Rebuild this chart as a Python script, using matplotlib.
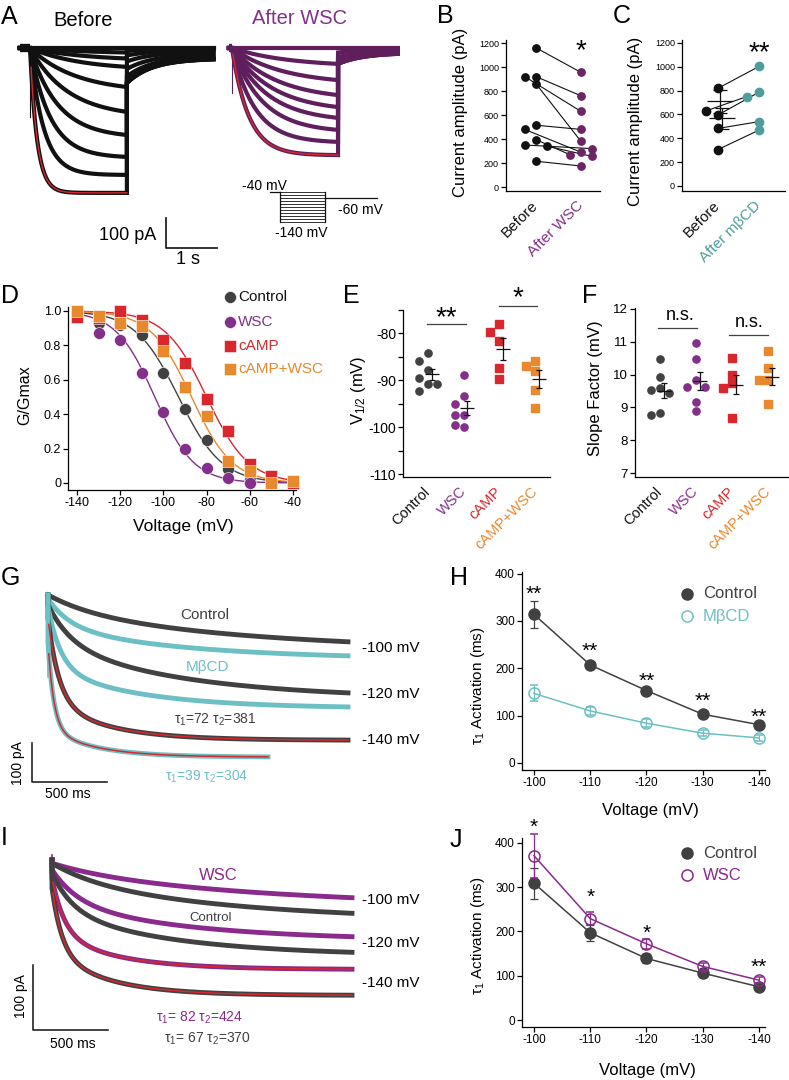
import numpy as np
import matplotlib
matplotlib.use('Agg')
import matplotlib.pyplot as plt
from matplotlib.lines import Line2D

plt.rcParams['font.family'] = ['Liberation Sans', 'DejaVu Sans']
plt.rcParams['mathtext.fontset'] = 'custom'
plt.rcParams['mathtext.rm'] = 'Liberation Sans'
plt.rcParams['mathtext.it'] = 'Liberation Sans:italic'
plt.rcParams['axes.unicode_minus'] = False
plt.rcParams['axes.linewidth'] = 0.9

# ---------------- data ----------------
# A: current families (end of step amplitude pA, activation tau s, tail pA)
a_before_end = [0, -15, -35, -63, -130, -213, -290, -363, -423, -483]
a_before_tau = [1.0, 1.2, 1.1, 1.0, 0.9, 0.75, 0.55, 0.4, 0.27, 0.14]
a_before_tail = [0, 10, 25, 45, 70, 95, 110, 115, 117, 117]
a_after_end = [0, -53, -107, -157, -197, -233, -273, -313, -357]
a_after_tau = [1.2, 1.1, 1.0, 0.9, 0.8, 0.7, 0.6, 0.45, 0.33]
a_after_tail = [0, 15, 30, 40, 47, 50, 52, 53, 53]
proto_levels = [-40, -50, -60, -70, -80, -90, -100, -110, -120, -130, -140]

# B / C: paired current amplitudes (pA)
b_before = [1160, 920, 920, 860, 515, 480, 395, 350, 340, 215]
b_after = [955, 760, 630, 380, 480, 290, 270, 320, 255, 175]
c_before = [820, 596, 629, 483, 306]
c_after = [1003, 787, 750, 540, 469]

# D: G/Gmax
volt_d = [-140, -130, -120, -110, -100, -90, -80, -70, -60, -50, -40]
gg_ctrl = [0.98, 0.93, 0.92, 0.86, 0.64, 0.43, 0.25, 0.08, 0.02, 0.0, 0.0]
gg_wsc = [0.97, 0.87, 0.83, 0.64, 0.41, 0.20, 0.09, 0.03, 0.0, 0.0, 0.0]
gg_camp = [0.965, 0.96, 1.0, 0.95, 0.83, 0.70, 0.49, 0.30, 0.11, 0.04, 0.0]
gg_campw = [1.0, 0.97, 0.93, 0.91, 0.77, 0.56, 0.39, 0.13, 0.07, 0.0, 0.01]
fit_vhalf = [-93, -104, -80, -87]
fit_slope = [10, 9, 9.7, 9.5]

# E: V1/2 (mV), F: slope factor (mV)
groups = ['Control', 'WSC', 'cAMP', 'cAMP+WSC']
e_vals = [[-84.2, -85.8, -87.9, -89.6, -90.8, -90.8, -92.2],
          [-88.8, -93.4, -95.0, -97.5, -97.5, -100.0, -99.6],
          [-77.9, -79.6, -81.7, -87.4, -89.8],
          [-85.8, -87.0, -88.1, -92.0, -95.9]]
f_vals = [[10.47, 9.94, 9.60, 9.53, 9.43, 8.82, 8.77],
          [10.96, 10.47, 9.84, 9.63, 9.63, 9.17, 8.90],
          [10.5, 9.99, 9.73, 9.58, 8.68],
          [10.72, 10.19, 9.84, 9.84, 9.10]]

# G / I: example traces (amplitude pA, instantaneous pA, tau1 ms, tau2 ms, fast fraction)
trace_volts = ['-100 mV', '-120 mV', '-140 mV']
g_ctrl = dict(amp=[120, 251, 372], inst=[0, 25, 60], tau1=[315, 153, 72],
              tau2=[1500, 900, 381], frac=[0.3, 0.4, 0.67], dur=[2000, 2000, 2000])
g_mbcd = dict(amp=[156, 287, 415], inst=[10, 30, 123], tau1=[147, 84, 39],
              tau2=[900, 600, 304], frac=[0.45, 0.6, 0.75], dur=[2000, 2000, 1467])
i_wsc = dict(amp=[58, 118, 168], inst=[5, 15, 28], tau1=[371, 172, 82],
             tau2=[1600, 900, 424], frac=[0.2, 0.45, 0.6], dur=[2000, 2000, 2000])
i_ctrl = dict(amp=[82, 142, 208], inst=[5, 20, 43], tau1=[309, 139, 67],
              tau2=[1300, 800, 370], frac=[0.3, 0.45, 0.6], dur=[2000, 2000, 2000])

# H / J: tau1 activation (ms)
volt_h = [-100, -110, -120, -130, -140]
h_ctrl = [314, 207, 153, 103, 81]
h_ctrl_err = [28, 6, 5, 5, 4]
h_mbcd = [147, 110, 84, 63, 53]
h_mbcd_err = [17, 8, 8, 7, 6]
h_stars = ['**', '**', '**', '**', '**']
h_star_y = [376, 256, 192, 150, 116]
j_ctrl = [309, 197, 139, 106, 75]
j_ctrl_err = [35, 18, 10, 8, 5]
j_wsc = [371, 229, 172, 121, 90]
j_wsc_err = [50, 15, 12, 8, 7]
j_stars = ['*', '*', '*', '', '**']
j_star_y = [456, 298, 217, 0, 140]

# ---------------- colours ----------------
BLACK = '#111111'
GRAY = '#414141'
PURPLE_TR = '#5e1f5c'
PURPLE_B = '#6d2464'
PURPLE = '#83308a'
PURPLE_I = '#8a2a8c'
TEAL_C = '#4f9e9b'
TEAL = '#6cc0c3'
RED = '#d9272e'
ORANGE = '#e8892e'

W, H = 789, 1080
fig = plt.figure(figsize=(W / 100, H / 100), dpi=100)


def px_axes(x0, y0, x1, y1):
    return fig.add_axes([x0 / W, 1 - y1 / H, (x1 - x0) / W, (y1 - y0) / H])


def ftext(x, y, s, **kw):
    fig.text(x / W, 1 - y / H, s, **kw)


def fmark(x, y, **kw):
    fig.add_artist(Line2D([x / W], [1 - y / H], transform=fig.transFigure, **kw))


def style(ax, fs):
    for s in ['top', 'right']:
        ax.spines[s].set_visible(False)
    ax.tick_params(direction='out', length=3.5, width=0.9, labelsize=fs, pad=1.5)


def ylab(ax, s, xr, yc, fs):
    ax.set_ylabel(s, fontsize=fs)
    ax.yaxis.set_label_coords(xr / W, 1 - yc / H, transform=fig.transFigure)


def xlab(ax, s, xc, yt, fs):
    ax.set_xlabel(s, fontsize=fs)
    ax.xaxis.set_label_coords(xc / W, 1 - yt / H, transform=fig.transFigure)


def beeswarm(vals, xpx, ypx, diam, step):
    # place each point at the centre, or the nearest free side slot
    placed, offs = [], []
    for v in vals:
        for k in [0, -1, 1, -2, 2, -3, 3]:
            x = k * step
            if all(((x - qx) * xpx) ** 2 + ((v - qy) * ypx) ** 2 >= diam ** 2
                   for qx, qy in placed):
                break
        placed.append((x, v))
        offs.append(x)
    return np.array(offs)


def rot_labels(ax, labels, colors, fs):
    ax.set_xticks(range(len(labels)))
    ax.set_xticklabels(labels, rotation=45, ha='right', va='center',
                       rotation_mode='anchor', fontsize=fs)
    for lab, c in zip(ax.get_xticklabels(), colors):
        lab.set_color(c)
    ax.tick_params(axis='x', length=0, pad=9)


# panel letters
for letter, (x, y) in zip('ABCDEFGHIJ', [(1, 5), (437, 4), (613, 4), (1, 284), (343, 284),
                                         (582, 284), (1, 566), (450, 566), (1, 826), (450, 828)]):
    ftext(x, y, letter, fontsize=18, va='top', ha='left')

# ---------------- A ----------------
axA = px_axes(15, 30, 400, 270)
axA.set_xlim(-0.294, 7.255)
axA.set_ylim(-740, 60)
axA.axis('off')


def family(ax, t0, pre, dur, tail_dur, ends, taus, tails, color, spike):
    for end, tau, tail in zip(ends, taus, tails):
        t_pre = np.linspace(-pre, 0, 10)
        t_step = np.linspace(0, dur, 400)
        i_step = end * (1 - np.exp(-t_step / tau)) / (1 - np.exp(-dur / tau))
        t_tail = np.linspace(0, tail_dur, 200)
        i_tail = -tail * (0.3 + 0.7 * np.exp(-t_tail / 0.5))
        t = np.concatenate([t_pre, t_step, dur + t_tail])
        i = np.concatenate([np.zeros_like(t_pre), i_step, i_tail])
        ax.plot(t0 + t, i, color=color, lw=3.0, solid_joinstyle='miter')
    ax.plot([t0 - pre, t0], [0, 0], color=color, lw=6, solid_capstyle='butt')
    ax.plot([t0, t0], [0, spike], color=color, lw=0.8)
    tf = np.linspace(0.02, dur, 300)
    ax.plot(t0 + tf, ends[-1] * (1 - np.exp(-tf / taus[-1])) / (1 - np.exp(-dur / taus[-1])),
            color=RED, lw=1.0)


family(axA, 0.0, 0.2, 1.9, 1.7, a_before_end, a_before_tau, a_before_tail, BLACK, -230)
family(axA, 3.96, 0.06, 2.08, 1.2, a_after_end, a_after_tau, a_after_tail, PURPLE_TR, -150)

# scale bar 100 pA / 1 s
sb_x, sb_y = 2.667, -666.7
axA.plot([sb_x, sb_x, sb_x + 1], [sb_y + 100, sb_y, sb_y], color=BLACK, lw=1.2)
ftext(128, 236, '100 pA', fontsize=13, ha='center', va='center')
ftext(188, 260, '1 s', fontsize=13, ha='center', va='center')
ftext(83, 20, 'Before', fontsize=14.5, ha='center', va='center')
ftext(300, 19, 'After WSC', fontsize=14.5, ha='center', va='center', color=PURPLE)

# voltage protocol
axP = px_axes(265, 185, 380, 228)
axP.set_xlim(-0.1, 2.155)
axP.set_ylim(-160, -16.7)
axP.axis('off')
for v in proto_levels:
    axP.plot([0.2, 1.08], [v, v], color=BLACK, lw=0.6)
axP.plot([0, 0.2], [-40, -40], color=BLACK, lw=0.9)
axP.plot([0.2, 0.2], [-40, -140], color=BLACK, lw=0.9)
axP.plot([1.08, 1.08], [-40, -140], color=BLACK, lw=0.9)
axP.plot([1.08, 2.1], [-60, -60], color=BLACK, lw=0.9)
ftext(264, 186, '-40 mV', fontsize=10, ha='center', va='center')
ftext(360, 210, '-60 mV', fontsize=10, ha='center', va='center')
ftext(301, 233, '-140 mV', fontsize=10, ha='center', va='center')

# ---------------- B ----------------
axB = px_axes(506, 40, 600, 191)
style(axB, 6.5)
axB.set_xlim(-0.667, 1.422)
axB.set_ylim(-33, 1225)
axB.set_yticks(range(0, 1201, 200))
ob = beeswarm(b_before, 45, 0.12, 7, 0.25)
oa = beeswarm(b_after, 45, 0.12, 7, 0.25)
for k in range(len(b_before)):
    axB.plot([ob[k], 1 + oa[k]], [b_before[k], b_after[k]], color=BLACK, lw=0.8, zorder=2)
axB.plot(ob, b_before, 'o', color=BLACK, ms=5.3, zorder=3, clip_on=False)
axB.plot(1 + oa, b_after, 'o', color=PURPLE_B, ms=5.3, zorder=3, clip_on=False)
rot_labels(axB, ['Before', 'After WSC'], [BLACK, PURPLE], 11)
ylab(axB, 'Current amplitude (pA)', 468, 112, 12)
axB.text(1, 1242, '*', fontsize=20, ha='center', va='top')

# ---------------- C ----------------
axC = px_axes(682, 40, 785, 191)
style(axC, 6.5)
axC.set_xlim(-0.878, 1.634)
axC.set_ylim(-42, 1225)
axC.set_yticks(range(0, 1201, 200))
ob = beeswarm(c_before, 41, 0.119, 8, 0.3)
oa = beeswarm(c_after, 41, 0.119, 8, 0.3)
for k in range(len(c_before)):
    axC.plot([ob[k], 1 + oa[k]], [c_before[k], c_after[k]], color=BLACK, lw=0.8, zorder=2)
axC.plot(ob, c_before, 'o', color=BLACK, ms=6, zorder=3)
axC.plot(1 + oa, c_after, 'o', color=TEAL_C, ms=6, zorder=3)
for xg, vals in [(0.1, c_before), (0.05, c_after)]:
    m = np.mean(vals)
    se = np.std(vals, ddof=1) / np.sqrt(len(vals))
    axC.errorbar(xg, m, yerr=se, fmt='_', ms=19, mew=0.9, color=BLACK, elinewidth=0.9,
                 capsize=5, capthick=0.9, zorder=4)
rot_labels(axC, ['Before', 'After m\u03b2CD'], [BLACK, TEAL_C], 11)
ylab(axC, 'Current amplitude (pA)', 643, 121, 12)
axC.text(1, 1225, '**', fontsize=20, ha='center', va='top')

# ---------------- D ----------------
axD = px_axes(68, 307, 296, 490)
style(axD, 9)
axD.set_xlim(-144.2, -38.6)
axD.set_ylim(-0.0407, 1.023)
axD.set_xticks(range(-140, -39, 20))
axD.set_yticks([0, 0.2, 0.4, 0.6, 0.8, 1.0])
axD.set_yticklabels(['0', '0.2', '0.4', '0.6', '0.8', '1.0'])
vv = np.linspace(-140, -40, 300)
d_sets = [(gg_ctrl, GRAY, 'o'), (gg_wsc, PURPLE, 'o'), (gg_camp, RED, 's'), (gg_campw, ORANGE, 's')]
for (vals, col, mk), vh, k in zip(d_sets, fit_vhalf, fit_slope):
    axD.plot(vv, 1 / (1 + np.exp((vv - vh) / k)), color=col, lw=1.0, zorder=2)
for vals, col, mk in d_sets:
    axD.plot(volt_d, vals, mk, color=col, ms=8.6, mec='white', mew=0.4, zorder=3, clip_on=False)
ylab(axD, 'G/Gmax', 32, 395, 11.5)
xlab(axD, 'Voltage (mV)', 183, 519, 12.5)
for (lab, (vals, col, mk)), y in zip(zip(groups, d_sets), [297, 322, 346, 369]):
    fmark(230, y, marker=mk, color=col, ms=8.6, mec='white', mew=0.4, ls='none')
    ftext(238, y, lab, fontsize=11, va='center', ha='left', color=BLACK if lab == 'Control' else col)

# ---------------- E / F ----------------
grp_colors = [GRAY, PURPLE, RED, ORANGE]
grp_marks = ['o', 'o', 's', 's']
lab_colors = [BLACK, PURPLE, RED, ORANGE]


def scatter_panel(ax, data, xpx, ypx):
    for g, vals in enumerate(data):
        offs = beeswarm(vals, xpx, ypx, 8, 0.25)
        ax.plot(g + offs, vals, grp_marks[g], color=grp_colors[g], ms=5.2, zorder=3)
        m = np.mean(vals)
        se = np.std(vals, ddof=1) / np.sqrt(len(vals))
        ax.errorbar(g + 0.1, m, yerr=se, fmt='_', ms=10, mew=0.9, color=BLACK,
                    elinewidth=0.9, capsize=2.5, capthick=0.9, zorder=4)


axE = px_axes(403, 310, 550, 477)
style(axE, 10)
axE.set_xlim(-0.70, 3.42)
axE.set_ylim(-110.64, -75.1)
axE.set_yticks(range(-110, -74, 5))
axE.set_yticklabels(['-110', '', '-100', '', '-90', '', '-80', ''])
scatter_panel(axE, e_vals, 35.67, 4.7)
rot_labels(axE, groups, lab_colors, 10.5)
ylab(axE, 'V$_{1/2}$ (mV)', 368, 390, 12)
axE.plot([-0.03, 1.07], [-77.9, -77.9], color=GRAY, lw=0.9, clip_on=False)
axE.text(0.5, -74.0, '**', fontsize=20, ha='center', va='top')
axE.plot([1.99, 3.06], [-74.04, -74.04], color=GRAY, lw=0.9, clip_on=False)
axE.text(2.52, -69.8, '*', fontsize=20, ha='center', va='top')

axF = px_axes(635, 308, 788, 477)
style(axF, 9.5)
axF.set_xlim(-0.694, 3.556)
axF.set_ylim(6.88, 12.03)
axF.set_yticks(range(7, 13))
scatter_panel(axF, f_vals, 36, 32.8)
rot_labels(axF, groups, lab_colors, 10.5)
ylab(axF, 'Slope Factor (mV)', 603, 388, 12)
axF.plot([-0.06, 1.03], [11.42, 11.42], color=GRAY, lw=0.9, clip_on=False)
axF.text(0.56, 11.66, 'n.s.', fontsize=13, ha='center', va='baseline')
axF.plot([1.92, 3.0], [11.21, 11.21], color=GRAY, lw=0.9, clip_on=False)
axF.text(2.47, 11.46, 'n.s.', fontsize=13, ha='center', va='baseline')


# ---------------- G / I traces ----------------
def trace(p, k, t):
    f, t1, t2 = p['frac'][k], p['tau1'][k], p['tau2'][k]
    g = 1 - f * np.exp(-t / t1) - (1 - f) * np.exp(-t / t2)
    ge = 1 - f * np.exp(-p['dur'][k] / t1) - (1 - f) * np.exp(-p['dur'][k] / t2)
    return -(p['inst'][k] + (p['amp'][k] - p['inst'][k]) * g / ge)


def draw_traces(ax, sets, fit_sets):
    for k in range(3):
        for p, col in sets:
            t = np.linspace(0, p['dur'][k], 600)
            ax.plot(np.r_[0, t], np.r_[0, trace(p, k, t)], color=col, lw=3.5)
    for p in fit_sets:
        t = np.linspace(5, p['dur'][2], 400)
        ax.plot(t, trace(p, 2, t), color=RED, lw=1.1)


axG = px_axes(10, 585, 400, 800)
axG.set_xlim(-253.3, 2346.7)
axG.set_ylim(-525.6, 25.6)
axG.axis('off')
axG.plot([0, 0], [0, -210], color=TEAL, lw=1.2)
draw_traces(axG, [(g_ctrl, GRAY), (g_mbcd, TEAL)], [g_ctrl, g_mbcd])
axG.plot([-106.7, -106.7, 393.3], [-379.5, -479.5, -479.5], color=BLACK, lw=1.1)
ftext(18, 763, '100 pA', fontsize=10, rotation=90, ha='center', va='center')
ftext(68, 794, '500 ms', fontsize=10, ha='center', va='center')
ftext(205, 615, 'Control', fontsize=11, ha='center', va='center', color=GRAY)
ftext(207, 667, 'M\u03b2CD', fontsize=11, ha='center', va='center', color=TEAL)
ftext(215, 720, '\u03c4$_1$=72 \u03c4$_2$=381', fontsize=10, ha='center', va='center', color=GRAY)
ftext(207, 777, '\u03c4$_1$=39 \u03c4$_2$=304', fontsize=10, ha='center', va='center', color=TEAL)
for lab, y in zip(trace_volts, [648, 694, 740]):
    ftext(362, y, lab, fontsize=11, ha='left', va='center')

axI = px_axes(10, 845, 400, 1075)
axI.set_xlim(-280, 2320)
axI.set_ylim(-330.8, 23.1)
axI.axis('off')
axI.plot([0, 0], [8, -50], color=PURPLE_I, lw=1.2)
draw_traces(axI, [(i_wsc, PURPLE_I), (i_ctrl, GRAY)], [i_wsc, i_ctrl])
axI.plot([-126.7, -126.7, 373.3], [-161.5, -261.5, -261.5], color=BLACK, lw=1.1)
ftext(21, 996, '100 pA', fontsize=10, rotation=90, ha='center', va='center')
ftext(73, 1044, '500 ms', fontsize=10, ha='center', va='center')
ftext(218, 876, 'WSC', fontsize=12, ha='center', va='center', color=PURPLE_I)
ftext(211, 918, 'Control', fontsize=9.5, ha='center', va='center', color=GRAY)
ftext(200, 1018, '\u03c4$_1$= 82 \u03c4$_2$=424', fontsize=10, ha='center', va='center', color=PURPLE_I)
ftext(207, 1039, '\u03c4$_1$= 67 \u03c4$_2$=370', fontsize=10, ha='center', va='center', color=GRAY)
for lab, y in zip(trace_volts, [900, 943, 983]):
    ftext(362, y, lab, fontsize=11, ha='left', va='center')


# ---------------- H / J ----------------
def tau_panel(ax, ctrl, ctrl_err, other, other_err, col, stars, star_y):
    style(ax, 8.5)
    ax.set_xlim(-97.87, -141.07)
    ax.set_xticks(volt_h)
    ax.set_yticks([0, 100, 200, 300, 400])
    ax.errorbar(volt_h, ctrl, yerr=ctrl_err, color=GRAY, marker='o', ms=8, lw=1.1,
                elinewidth=0.9, capsize=3, capthick=0.9, zorder=3, clip_on=False)
    ax.errorbar(volt_h, other, yerr=other_err, color=col, marker='o', ms=8, mfc='none',
                mec=col, mew=1.1, lw=1.1, elinewidth=0.9, capsize=3, capthick=0.9,
                zorder=4, clip_on=False)
    for v, s, y in zip(volt_h, stars, star_y):
        if s:
            ax.text(v, y, s, fontsize=15, ha='center', va='top')


axH = px_axes(522, 572, 765, 770)
axH.set_ylim(-14.8, 403.5)
tau_panel(axH, h_ctrl, h_ctrl_err, h_mbcd, h_mbcd_err, TEAL, h_stars, h_star_y)
ylab(axH, '\u03c4$_1$ Activation (ms)', 487, 686, 11)
xlab(axH, 'Voltage (mV)', 650, 803, 12)
fmark(687, 594, marker='o', color=GRAY, ms=8, ls='none')
ftext(703, 594, 'Control', fontsize=12, va='center', color=GRAY)
fmark(687, 616, marker='o', color=TEAL, mfc='none', mew=1.1, ms=8, ls='none')
ftext(703, 616, 'M\u03b2CD', fontsize=12, va='center', color=TEAL)

axJ = px_axes(522, 838, 765, 1027)
axJ.set_ylim(-15.8, 411)
tau_panel(axJ, j_ctrl, j_ctrl_err, j_wsc, j_wsc_err, PURPLE_I, j_stars, j_star_y)
ylab(axJ, '\u03c4$_1$ Activation (ms)', 487, 936, 11)
xlab(axJ, 'Voltage (mV)', 647, 1063, 12)
fmark(687, 853, marker='o', color=GRAY, ms=8, ls='none')
ftext(703, 853, 'Control', fontsize=12, va='center', color=GRAY)
fmark(687, 875, marker='o', color=PURPLE_I, mfc='none', mew=1.1, ms=8, ls='none')
ftext(703, 875, 'WSC', fontsize=12, va='center', color=PURPLE_I)

fig.savefig('out.png', dpi=100)
